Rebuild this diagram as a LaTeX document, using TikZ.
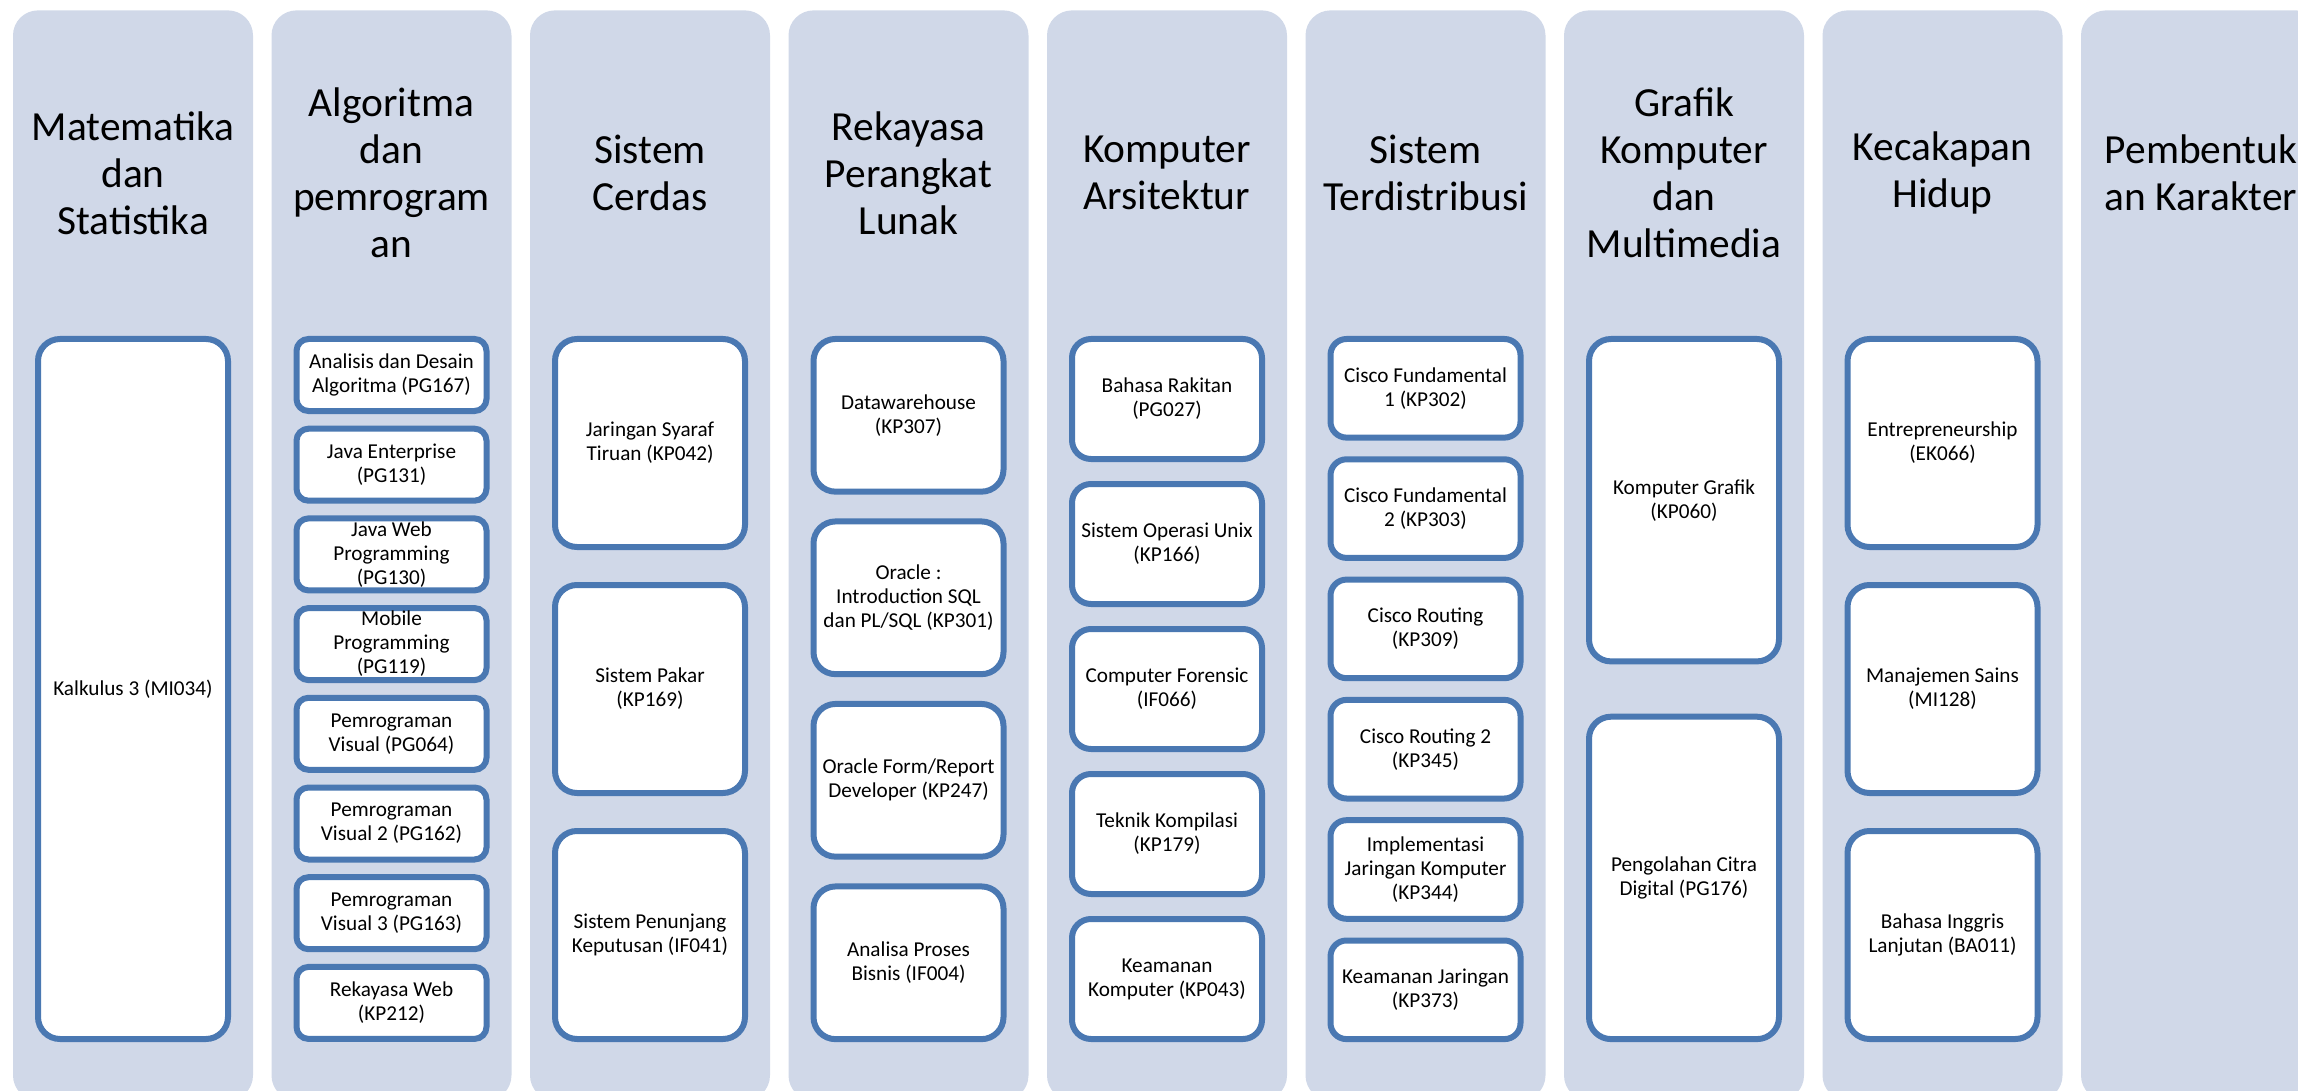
\documentclass[tikz,border=0pt]{standalone}
\usepackage{fontspec}
\setmainfont{Carlito}
\usetikzlibrary{positioning}
\usepackage{xcolor}
\definecolor{lanefill}{HTML}{D0D8E8}
\definecolor{boxline}{HTML}{4A78B2}

\begin{document}
\begin{tikzpicture}[x=0.5pt, y=-0.5pt,
    lane/.style={fill=lanefill, rounded corners=12.5pt, minimum width=120pt,
      minimum height=545pt, inner sep=0pt, anchor=north},
    lanetitle/.style={align=center, font=\fontsize{20.7pt}{23.5pt}\selectfont},
    course/.style={draw=boxline, line width=3pt, fill=white, minimum width=95pt,
      inner sep=0pt, align=center, font=\fontsize{10.6pt}{12pt}\selectfont}]
    \useasboundingbox (0,0) rectangle (2298,1091);
    \clip (0,0) rectangle (2298,1091);
    % Kolom latar
    \foreach \i/\cx in {1/133, 2/391.5, 3/650, 4/908.5, 5/1167, 6/1425.5, 7/1684, 8/1942.5, 9/2201}
      \node[lane] (lane\i) at (\cx,10) {};
    % Judul kolom
    \foreach \i/\cx/\txt in {1/133/{Matematika\\dan\\Statistika},
        2/391.5/{Algoritma\\dan\\pemrogram\\an}, 3/650/{Sistem\\Cerdas},
        4/908.5/{Rekayasa\\Perangkat\\Lunak}, 5/1167/{Komputer\\Arsitektur},
        6/1425.5/{Sistem\\Terdistribusi}, 7/1684/{Grafik\\Komputer\\dan\\Multimedia},
        8/1942.5/{Kecakapan\\Hidup}, 9/2201/{Pembentuk\\an Karakter}}
      \node[lanetitle] (title\i) at (\cx,173) {\txt};
    % Matematika dan Statistika
    \node[course, minimum height=350pt, rounded corners=11pt] (mk1-1) at (133,689) {Kalkulus 3 (MI034)};
    % Algoritma dan pemrograman
    \foreach \txt [count=\k] in {{Analisis dan Desain\\Algoritma (PG167)}, {Java Enterprise\\(PG131)},
        {Java Web\\Programming\\(PG130)}, {Mobile\\Programming\\(PG119)},
        {Pemrograman\\Visual (PG064)}, {Pemrograman\\Visual 2 (PG162)},
        {Pemrograman\\Visual 3 (PG163)}, {Rekayasa Web\\(KP212)}}
      \node[course, minimum height=36pt, rounded corners=6pt] (mk2-\k) at (391.5,{375+89.7*(\k-1)}) {\txt};
    % Sistem Cerdas
    \foreach \txt [count=\k] in {{Jaringan Syaraf\\Tiruan (KP042)}, {Sistem Pakar\\(KP169)},
        {Sistem Penunjang\\Keputusan (IF041)}}
      \node[course, minimum height=104pt, rounded corners=11pt] (mk3-\k) at (650,{443+246*(\k-1)}) {\txt};
    % Rekayasa Perangkat Lunak
    \foreach \txt [count=\k] in {{Datawarehouse\\(KP307)}, {Oracle :\\Introduction SQL\\dan PL/SQL (KP301)},
        {Oracle Form/Report\\Developer (KP247)}, {Analisa Proses\\Bisnis (IF004)}}
      \node[course, minimum height=76.35pt, rounded corners=11pt] (mk4-\k) at (908.5,{415.3+182.5*(\k-1)}) {\txt};
    % Komputer Arsitektur
    \foreach \txt [count=\k] in {{Bahasa Rakitan\\(PG027)}, {Sistem Operasi Unix\\(KP166)},
        {Computer Forensic\\(IF066)}, {Teknik Kompilasi\\(KP179)}, {Keamanan\\Komputer (KP043)}}
      \node[course, minimum height=60pt, rounded corners=9.5pt] (mk5-\k) at (1167,{399+145*(\k-1)}) {\txt};
    % Sistem Terdistribusi
    \foreach \txt [count=\k] in {{Cisco Fundamental\\1 (KP302)}, {Cisco Fundamental\\2 (KP303)},
        {Cisco Routing\\(KP309)}, {Cisco Routing 2\\(KP345)},
        {Implementasi\\Jaringan Komputer\\(KP344)}, {Keamanan Jaringan\\(KP373)}}
      \node[course, minimum height=49.3pt, rounded corners=8pt] (mk6-\k) at (1425.5,{388.3+120.3*(\k-1)}) {\txt};
    % Grafik Komputer dan Multimedia
    \foreach \txt [count=\k] in {{Komputer Grafik\\(KP060)}, {Pengolahan Citra\\Digital (PG176)}}
      \node[course, minimum height=161.2pt, rounded corners=11pt] (mk7-\k) at (1684,{500.2+377.7*(\k-1)}) {\txt};
    % Kecakapan Hidup
    \foreach \txt [count=\k] in {{Entrepreneurship\\(EK066)}, {Manajemen Sains\\(MI128)},
        {Bahasa Inggris\\Lanjutan (BA011)}}
      \node[course, minimum height=104pt, rounded corners=11pt] (mk8-\k) at (1942.5,{443+246*(\k-1)}) {\txt};
\end{tikzpicture}
\end{document}
